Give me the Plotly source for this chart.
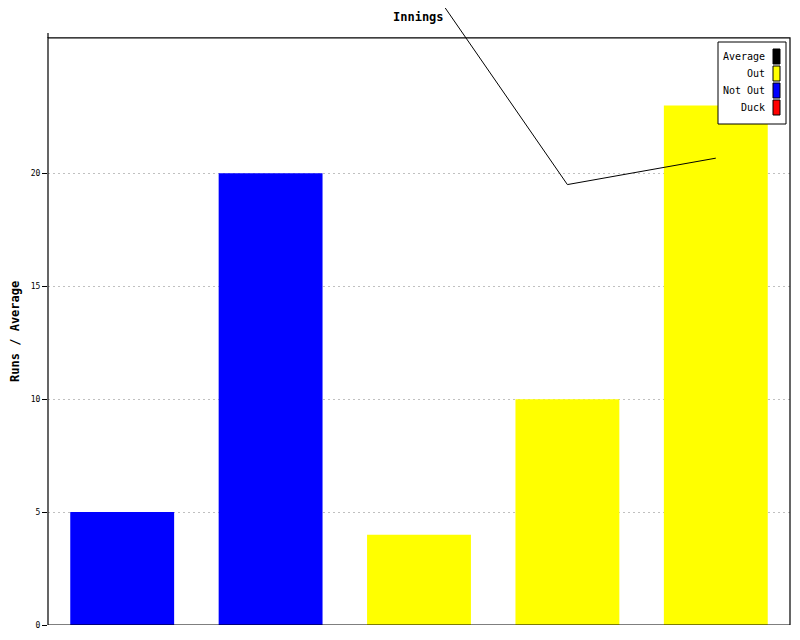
import plotly.graph_objects as go

# ---- data ----
innings = ["1", "2", "3", "4", "5"]
not_out_runs = [5, 20, None, None, None]
out_runs = [None, None, 4, 10, 23]
duck_runs = [None, None, None, None, None]
average = [None, None, 29, 19.5, 20.67]
y_ticks = [0, 5, 10, 15, 20]
legend_names = ["Average", "Out", "Not Out", "Duck"]
legend_colors = ["#000000", "#ffff00", "#0000ff", "#ff0000"]

# page has an 8px body margin; figure sized to fit the 800x640 window
OFF = 8
W, H = 792, 632
ML, MR, MT, MB = 40, 10, 0, 15
PW, PH = W - ML - MR, H - MT - MB
FRAME_TOP = 26          # value where the visible frame ends
PX_PER_UNIT = 22.585
Y_MAX = PH / PX_PER_UNIT

def px(x):  # screen x -> paper
    return (x - OFF - ML) / PW

def py(y):  # screen y -> paper
    return (H - MB - (y - OFF)) / PH

MONO = "DejaVu Sans Mono"

fig = go.Figure()
fig.add_trace(go.Bar(x=innings, y=not_out_runs, name="Not Out",
                     marker=dict(color="#0000ff", line=dict(width=0)),
                     showlegend=False))
fig.add_trace(go.Bar(x=innings, y=out_runs, name="Out",
                     marker=dict(color="#ffff00", line=dict(width=0)),
                     showlegend=False))
fig.add_trace(go.Bar(x=innings, y=duck_runs, name="Duck",
                     marker=dict(color="#ff0000", line=dict(width=0)),
                     showlegend=False))
fig.add_trace(go.Scatter(x=innings, y=average, name="Average", mode="lines",
                         line=dict(color="#000000", width=1),
                         connectgaps=False, showlegend=False))

shapes = [
    # frame
    dict(type="rect", xref="paper", yref="y", x0=0, x1=1, y0=0, y1=FRAME_TOP,
         line=dict(color="black", width=1.2), layer="above"),
    # left axis stub above frame
    dict(type="line", xref="paper", yref="paper", x0=0, x1=0,
         y0=py(38), y1=py(33), line=dict(color="black", width=1.2)),
]

annotations = [
    dict(text="<b>Innings</b>", xref="paper", yref="paper", x=px(418), y=py(17),
         showarrow=False, font=dict(family=MONO, size=12, color="black"),
         xanchor="center", yanchor="middle"),
    dict(text="<b>Runs / Average</b>", xref="paper", yref="y", x=px(15.5),
         y=FRAME_TOP / 2, textangle=-90, showarrow=False,
         font=dict(family=MONO, size=12, color="black"),
         xanchor="center", yanchor="middle"),
]

# legend box (drawn manually: text on left, swatch on right)
shapes.append(dict(type="rect", xref="paper", yref="paper",
                   x0=px(718), x1=px(786), y0=py(124), y1=py(42),
                   line=dict(color="black", width=1), fillcolor="white",
                   layer="above"))
for i, (name, col) in enumerate(zip(legend_names, legend_colors)):
    cy = 56.5 + 17 * i
    shapes.append(dict(type="rect", xref="paper", yref="paper",
                       x0=px(773), x1=px(780), y0=py(cy + 7.5), y1=py(cy - 7.5),
                       line=dict(color="black", width=1), fillcolor=col,
                       layer="above"))
    annotations.append(dict(text=name, xref="paper", yref="paper",
                            x=px(767), y=py(cy), showarrow=False,
                            xanchor="right", yanchor="middle",
                            font=dict(family=MONO, size=10, color="black")))

fig.update_layout(
    width=W, height=H,
    margin=dict(l=ML, r=MR, t=MT, b=MB, pad=0),
    paper_bgcolor="white", plot_bgcolor="white",
    barmode="overlay", bargap=0.3,
    showlegend=False,
    xaxis=dict(type="category", range=[-0.5, 4.5], showticklabels=False,
               ticks="", showgrid=False, zeroline=False, showline=False,
               fixedrange=True),
    yaxis=dict(range=[0, Y_MAX], tickvals=y_ticks,
               ticktext=[str(v) for v in y_ticks],
               ticks="outside", ticklen=5, tickcolor="black", tickwidth=1,
               tickfont=dict(family=MONO, size=8, color="black"),
               showgrid=True, gridcolor="#c0c0c0", gridwidth=1,
               griddash="2px,3px", zeroline=False, showline=False,
               fixedrange=True),
    shapes=shapes,
    annotations=annotations,
)

fig.write_html("out.html")
